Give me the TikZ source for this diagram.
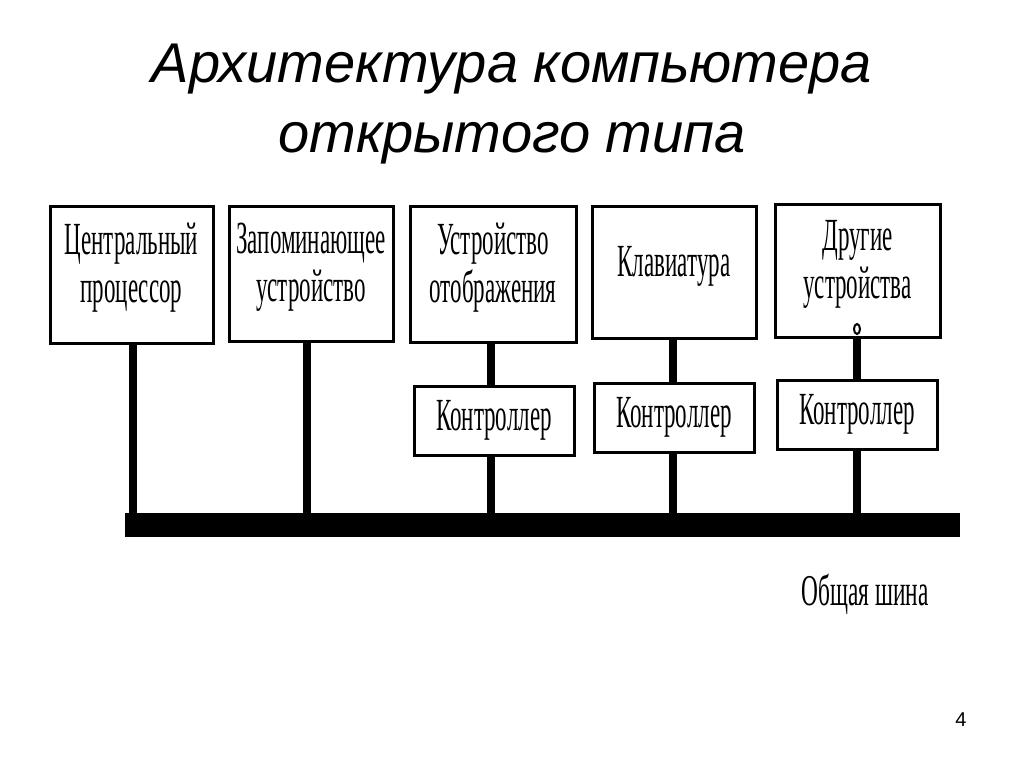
\documentclass[tikz,border=0pt]{standalone}
\usepackage{fontspec}
\setmainfont{Liberation Serif}
\newfontfamily\titlefont{Liberation Sans}
\newfontfamily\boxfont{Liberation Serif}[FakeStretch=0.50]
\newfontfamily\busfont{Liberation Serif}[FakeStretch=0.53]
\newcommand{\liftup}[1]{\raisebox{6pt}[\height][\depth]{\begin{tabular}{@{}c@{}}#1\end{tabular}}}
\begin{document}
\begin{tikzpicture}[x=1pt,y=-1pt,
  dev/.style={draw,line width=3pt,fill=white,inner sep=0pt,align=center,
    font=\boxfont\fontsize{46}{48}\selectfont},
  stem/.style={line width=8pt},
  bus/.style={fill=black}]
\useasboundingbox (0,0) rectangle (1024,767);
\fill[white] (0,0) rectangle (1024,767);
% title
\node[font=\titlefont\itshape\fontsize{56}{70}\selectfont,align=center,anchor=center]
  (title) at (512,104) {Архитектура компьютера\\открытого типа};
% top devices
\node[dev,minimum width=163pt,minimum height=136pt] (cpu) at (131.5,275) {\liftup{Центральный\\процессор}};
\node[dev,minimum width=164pt,minimum height=134pt] (mem) at (311,274) {\liftup{Запоминающее\\устройство}};
\node[dev,minimum width=166pt,minimum height=135pt] (disp) at (493,274.5) {\liftup{Устройство\\отображения}};
\node[dev,minimum width=164pt,minimum height=131pt] (kbd) at (674,272.5) {\liftup{Клавиатура}};
\node[dev,minimum width=165pt,minimum height=132pt] (oth) at (857.5,271) {\liftup{Другие\\устройства}};
% controllers
\node[dev,minimum width=160pt,minimum height=69pt] (c1) at (494,420.5) {Контроллер};
\node[dev,minimum width=160pt,minimum height=69pt] (c2) at (674,417.5) {Контроллер};
\node[dev,minimum width=160pt,minimum height=69pt] (c3) at (857,414.5) {Контроллер};
% bus
\coordinate (busL) at (125,513);
\coordinate (busR) at (960,537);
\fill[bus] (busL) rectangle (busR);
\node[font=\busfont\fontsize{44}{46}\selectfont,anchor=center] (buslbl) at (865,594) {Общая шина};
% stems
\coordinate (b1) at (133,520);
\coordinate (b2) at (307,520);
\coordinate (b3) at (491,520);
\coordinate (b4) at (673,520);
\coordinate (b5) at (857,520);
\draw[stem] (cpu.south -| b1) -- (b1);
\draw[stem] (mem.south -| b2) -- (b2);
\draw[stem] (disp.south -| b3) -- (c1.north -| b3);
\draw[stem] (c1.south -| b3) -- (b3);
\draw[stem] (kbd.south -| b4) -- (c2.north -| b4);
\draw[stem] (c2.south -| b4) -- (b4);
\draw[stem] (oth.south -| b5) -- (c3.north -| b5);
\draw[stem] (c3.south -| b5) -- (b5);
\draw[line width=2pt,fill=white] (857,329) ellipse (3pt and 5pt);
% page number
\node[font=\titlefont\fontsize{20}{22}\selectfont] (pg) at (961,720) {4};
\end{tikzpicture}
\end{document}
